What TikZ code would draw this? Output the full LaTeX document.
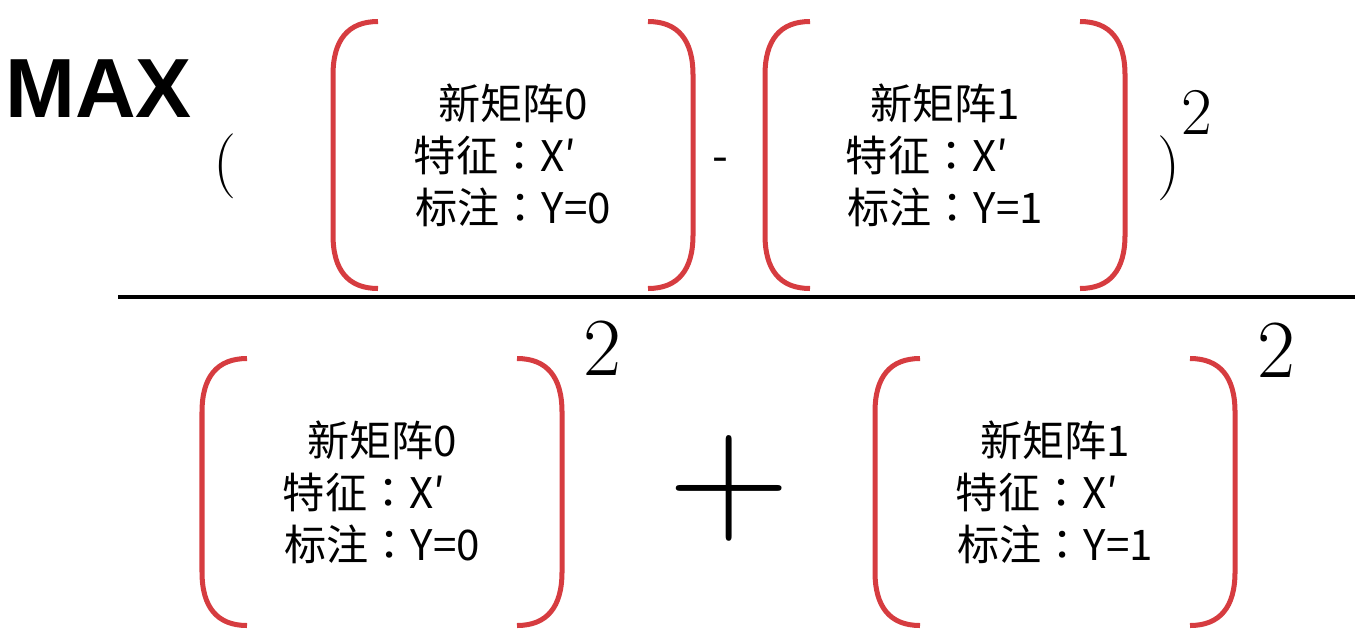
\documentclass[tikz,border=0pt]{standalone}
\usepackage{fontspec}
\newfontfamily\cjk{Noto Sans CJK SC}
\newfontfamily\cjktc{Noto Sans CJK TC}
\newfontfamily\maxfont{Liberation Sans}
\usetikzlibrary{positioning}
\definecolor{brkred}{RGB}{214,60,64}
\newcommand{\fwcolon}{{\cjktc ：}}
\newcommand{\tailpad}{\rule{0.85em}{0pt}}

\begin{document}
\begin{tikzpicture}[x=0.02cm, y=-0.02cm,
    brk/.style={draw=brkred, line width=2.85pt},
    matlabel/.style={align=center, inner sep=0pt, font=\cjk\fontsize{24}{29.6}\selectfont},
    sym/.style={inner sep=0pt},
    matbox/.pic={
        \draw[brk] (-135,-133.5) .. controls (-165,-133.5) and (-180,-115) .. (-180,-80)
            -- (-180,80) .. controls (-180,115) and (-165,133.5) .. (-135,133.5);
        \draw[brk] (135,-133.5) .. controls (165,-133.5) and (180,-115) .. (180,-80)
            -- (180,80) .. controls (180,115) and (165,133.5) .. (135,133.5);
    }]

    \useasboundingbox (0,0) rectangle (1361,630);

    % -------------------------------------------------------------
    % numerator: ( [matrix 0] - [matrix 1] )^2
    % -------------------------------------------------------------
    \node[sym, anchor=base west, font=\maxfont\bfseries\fontsize{47.8}{50}\selectfont] (max) at (5,117) {MAX};
    \node[sym, font=\fontsize{37}{37}\selectfont] (lpar) at (225,166) {(};

    \node[matlabel] (top0) at (513,155) {新矩阵0\\特征\fwcolon X′\tailpad\\标注\fwcolon Y=0};
    \pic at (top0.center) {matbox};

    \node[sym, font=\cjk\fontsize{26}{26}\selectfont] (minus) at (720,165) {-};

    \node[matlabel] (top1) at (945,155) {新矩阵1\\特征\fwcolon X′\tailpad\\标注\fwcolon Y=1};
    \pic at (top1.center) {matbox};

    \node[sym, font=\fontsize{37}{37}\selectfont] (rpar) at (1169,168) {)};
    \node[sym, font=\fontsize{38}{38}\selectfont] (sq0) at (1197,112) {2};

    % fraction bar
    \draw[line width=2.3pt] (118,297) -- (1355,297);

    % -------------------------------------------------------------
    % denominator: [matrix 0]^2 + [matrix 1]^2
    % -------------------------------------------------------------
    \node[matlabel] (bot0) at (382,492) {新矩阵0\\特征\fwcolon X′\tailpad\\标注\fwcolon Y=0};
    \pic at (bot0.center) {matbox};
    \node[sym, font=\fontsize{47}{47}\selectfont] (sq1) at (602,348) {2};

    \node[sym, font=\fontsize{96}{96}\selectfont] (plus) at (729,488) {+};

    \node[matlabel] (bot1) at (1055,492) {新矩阵1\\特征\fwcolon X′\tailpad\\标注\fwcolon Y=1};
    \pic at (bot1.center) {matbox};
    \node[sym, font=\fontsize{47}{47}\selectfont] (sq2) at (1276,350) {2};

\end{tikzpicture}
\end{document}
